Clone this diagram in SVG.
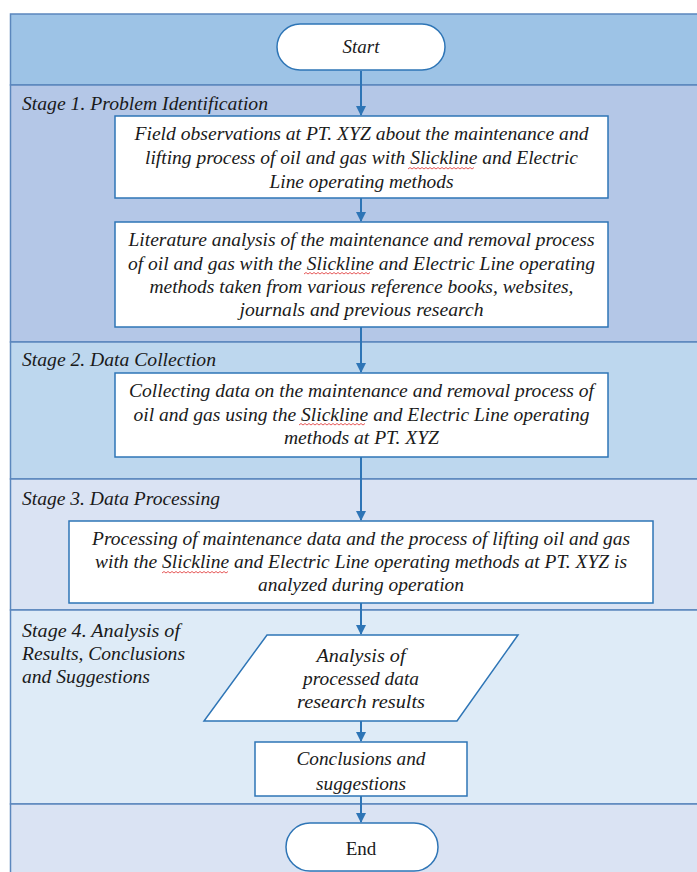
<svg xmlns="http://www.w3.org/2000/svg" width="697" height="872" viewBox="0 0 697 872">
<style>
.band{stroke:#5B87BD;stroke-width:1.5}
.box{fill:#ffffff;stroke:#2E75B6;stroke-width:1.5}
.t{font-family:"Liberation Serif","Times New Roman",serif;font-style:italic;font-size:19px;fill:#1a1a1a;text-anchor:middle}
.lbl{font-family:"Liberation Serif","Times New Roman",serif;font-style:italic;font-size:19px;fill:#1a1a1a}
.up{font-style:normal}
.conn{stroke:#2E75B6;stroke-width:2;fill:none;marker-end:url(#arr)}
.sq{stroke:#E03030;stroke-width:0.8;fill:none}
</style>
<defs>
<marker id="arr" markerWidth="10" markerHeight="10" refX="9" refY="5" orient="auto" markerUnits="userSpaceOnUse">
<path d="M0,0 L10,5 L0,10 z" fill="#2E75B6"/>
</marker>
</defs>
<rect x="0" y="0" width="697" height="872" fill="#ffffff"/>
<g id="lanes">
<rect class="band" x="10.5" y="14" width="700" height="71" fill="#9DC3E6"/>
<rect class="band" x="10.5" y="85" width="700" height="257" fill="#B4C7E7"/>
<rect class="band" x="10.5" y="342" width="700" height="137" fill="#BDD7EE"/>
<rect class="band" x="10.5" y="479" width="700" height="131" fill="#DAE3F3"/>
<rect class="band" x="10.5" y="610" width="700" height="194" fill="#DEEBF7"/>
<rect class="band" x="10.5" y="804" width="700" height="80" fill="#DAE3F3"/>
<text class="lbl" x="22" y="110" textLength="246" lengthAdjust="spacingAndGlyphs">Stage 1. Problem Identification</text>
<text class="lbl" x="22" y="366" textLength="194" lengthAdjust="spacingAndGlyphs">Stage 2. Data Collection</text>
<text class="lbl" x="22" y="505" textLength="198" lengthAdjust="spacingAndGlyphs">Stage 3. Data Processing</text>
<text class="lbl" x="22" y="637" textLength="158" lengthAdjust="spacingAndGlyphs">Stage 4. Analysis of</text>
<text class="lbl" x="22" y="660" textLength="163" lengthAdjust="spacingAndGlyphs">Results, Conclusions</text>
<text class="lbl" x="22" y="683" textLength="128" lengthAdjust="spacingAndGlyphs">and Suggestions</text>
</g>
<g id="connectors">
<line class="conn" x1="361" y1="71" x2="361" y2="115"/>
<line class="conn" x1="361" y1="198" x2="361" y2="221"/>
<line class="conn" x1="361" y1="327" x2="361" y2="372"/>
<line class="conn" x1="361" y1="457" x2="361" y2="520"/>
<line class="conn" x1="361" y1="603" x2="361" y2="634"/>
<line class="conn" x1="361" y1="721" x2="361" y2="741"/>
<line class="conn" x1="361" y1="796" x2="361" y2="822"/>
</g>
<g id="start">
<rect class="box" x="277" y="24" width="168" height="46" rx="23" ry="23"/>
<text class="t" x="361" y="53">Start</text>
</g>
<g id="field-observations">
<rect class="box" x="115" y="116" width="493" height="82"/>
<text class="t" x="361.5" y="140" textLength="454" lengthAdjust="spacingAndGlyphs">Field observations at PT. XYZ about the maintenance and</text>
<text class="t" x="361.5" y="164" textLength="433" lengthAdjust="spacingAndGlyphs">lifting process of oil and gas with Slickline and Electric</text>
<text class="t" x="361.5" y="188" textLength="184" lengthAdjust="spacingAndGlyphs">Line operating methods</text>
<path class="sq" d="M408,169 l2,-1.5 l2,1.5 l2,-1.5 l2,1.5 l2,-1.5 l2,1.5 l2,-1.5 l2,1.5 l2,-1.5 l2,1.5 l2,-1.5 l2,1.5 l2,-1.5 l2,1.5 l2,-1.5 l2,1.5 l2,-1.5 l2,1.5 l2,-1.5 l2,1.5 l2,-1.5 l2,1.5 l2,-1.5 l2,1.5 l2,-1.5 l2,1.5 l2,-1.5 l2,1.5 l2,-1.5 l2,1.5 l2,-1.5 l2,1.5 l2,-1.5"/>
</g>
<g id="literature-analysis">
<rect class="box" x="115" y="222" width="493" height="105"/>
<text class="t" x="361.5" y="246" textLength="466" lengthAdjust="spacingAndGlyphs">Literature analysis of the maintenance and removal process</text>
<text class="t" x="361.5" y="270" textLength="467" lengthAdjust="spacingAndGlyphs">of oil and gas with the Slickline and Electric Line operating</text>
<text class="t" x="361.5" y="293" textLength="424" lengthAdjust="spacingAndGlyphs">methods taken from various reference books, websites,</text>
<text class="t" x="361.5" y="316" textLength="244" lengthAdjust="spacingAndGlyphs">journals and previous research</text>
<path class="sq" d="M304,274 l2,-1.5 l2,1.5 l2,-1.5 l2,1.5 l2,-1.5 l2,1.5 l2,-1.5 l2,1.5 l2,-1.5 l2,1.5 l2,-1.5 l2,1.5 l2,-1.5 l2,1.5 l2,-1.5 l2,1.5 l2,-1.5 l2,1.5 l2,-1.5 l2,1.5 l2,-1.5 l2,1.5 l2,-1.5 l2,1.5 l2,-1.5 l2,1.5 l2,-1.5 l2,1.5 l2,-1.5 l2,1.5 l2,-1.5 l2,1.5 l2,-1.5"/>
</g>
<g id="data-collection">
<rect class="box" x="115" y="373" width="493" height="84"/>
<text class="t" x="361.5" y="397" textLength="465" lengthAdjust="spacingAndGlyphs">Collecting data on the maintenance and removal process of</text>
<text class="t" x="361.5" y="421" textLength="456" lengthAdjust="spacingAndGlyphs">oil and gas using the Slickline and Electric Line operating</text>
<text class="t" x="361.5" y="444" textLength="155" lengthAdjust="spacingAndGlyphs">methods at PT. XYZ</text>
<path class="sq" d="M299,425 l2,-1.5 l2,1.5 l2,-1.5 l2,1.5 l2,-1.5 l2,1.5 l2,-1.5 l2,1.5 l2,-1.5 l2,1.5 l2,-1.5 l2,1.5 l2,-1.5 l2,1.5 l2,-1.5 l2,1.5 l2,-1.5 l2,1.5 l2,-1.5 l2,1.5 l2,-1.5 l2,1.5 l2,-1.5 l2,1.5 l2,-1.5 l2,1.5 l2,-1.5 l2,1.5 l2,-1.5 l2,1.5 l2,-1.5 l2,1.5 l2,-1.5"/>
</g>
<g id="data-processing">
<rect class="box" x="69" y="521" width="584" height="82"/>
<text class="t" x="361" y="545" textLength="538" lengthAdjust="spacingAndGlyphs">Processing of maintenance data and the process of lifting oil and gas</text>
<text class="t" x="361" y="568" textLength="532" lengthAdjust="spacingAndGlyphs">with the Slickline and Electric Line operating methods at PT. XYZ is</text>
<text class="t" x="361" y="591" textLength="206" lengthAdjust="spacingAndGlyphs">analyzed during operation</text>
<path class="sq" d="M162,573 l2,-1.5 l2,1.5 l2,-1.5 l2,1.5 l2,-1.5 l2,1.5 l2,-1.5 l2,1.5 l2,-1.5 l2,1.5 l2,-1.5 l2,1.5 l2,-1.5 l2,1.5 l2,-1.5 l2,1.5 l2,-1.5 l2,1.5 l2,-1.5 l2,1.5 l2,-1.5 l2,1.5 l2,-1.5 l2,1.5 l2,-1.5 l2,1.5 l2,-1.5 l2,1.5 l2,-1.5 l2,1.5 l2,-1.5 l2,1.5 l2,-1.5"/>
</g>
<g id="analysis-results">
<polygon class="box" points="267,635 518,635 457,721 204,721"/>
<text class="t" x="361" y="662" textLength="89" lengthAdjust="spacingAndGlyphs">Analysis of</text>
<text class="t" x="361" y="685" textLength="116" lengthAdjust="spacingAndGlyphs">processed data</text>
<text class="t" x="361" y="708" textLength="128" lengthAdjust="spacingAndGlyphs">research results</text>
</g>
<g id="conclusions">
<rect class="box" x="255" y="742" width="212" height="54"/>
<text class="t" x="361" y="765" textLength="129" lengthAdjust="spacingAndGlyphs">Conclusions and</text>
<text class="t" x="361" y="790" textLength="90" lengthAdjust="spacingAndGlyphs">suggestions</text>
</g>
<g id="end">
<rect class="box" x="286" y="823" width="152" height="48" rx="24" ry="24"/>
<text class="t up" x="361" y="855">End</text>
</g>
</svg>
